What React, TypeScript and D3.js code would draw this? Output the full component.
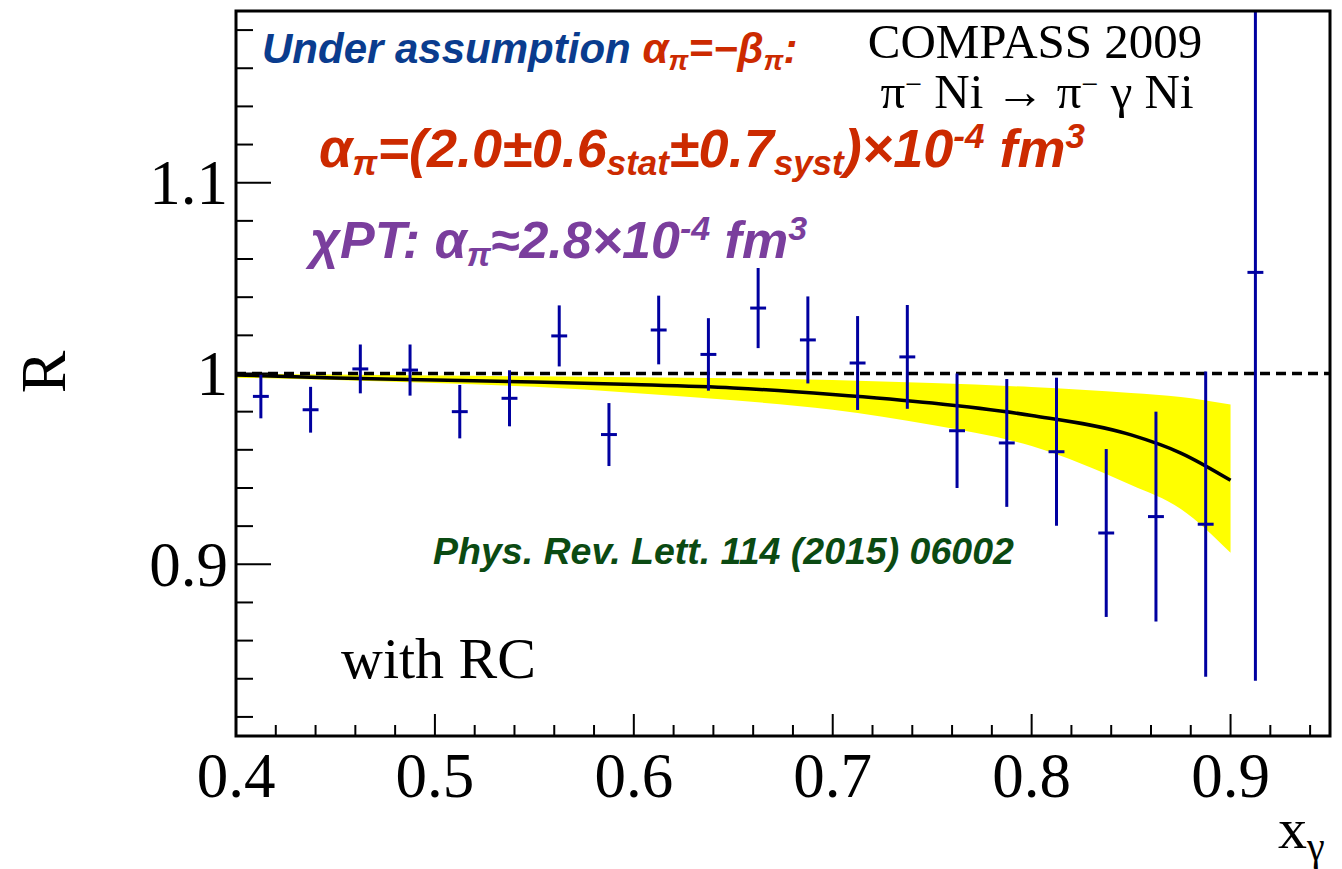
import React from "react";
import * as d3 from "d3";

// ---- data ----
const binCenters = [0.4125, 0.4375, 0.4625, 0.4875, 0.5125, 0.5375, 0.5625, 0.5875, 0.6125, 0.6375, 0.6625, 0.6875, 0.7125, 0.7375, 0.7625, 0.7875, 0.8125, 0.8375, 0.8625, 0.8875, 0.9125];
const ratioValues = [0.988, 0.981, 1.0024, 1.0018, 0.980, 0.987, 1.0197, 0.968, 1.0228, 1.010, 1.0343, 1.0176, 1.0055, 1.0087, 0.970, 0.9636, 0.959, 0.9164, 0.925, 0.921, 1.053];
const ratioErrors = [0.0115, 0.012, 0.0128, 0.0134, 0.014, 0.0147, 0.016, 0.0165, 0.018, 0.019, 0.021, 0.0228, 0.0246, 0.0272, 0.030, 0.0335, 0.0388, 0.044, 0.055, 0.080, 0.214];
const xHalfWidth = 0.004;

const theoryX = [0.40, 0.45, 0.50, 0.55, 0.60, 0.65, 0.70, 0.75, 0.80, 0.85, 0.875, 0.90];
const theoryR = [0.9992, 0.9977, 0.9966, 0.9955, 0.9942, 0.9924, 0.9890, 0.9845, 0.9780, 0.9678, 0.9583, 0.9440];
const bandUpper = [1.0, 0.9995, 0.9990, 0.9985, 0.9980, 0.9975, 0.9966, 0.9950, 0.9929, 0.9898, 0.9877, 0.9838];
const bandLower = [0.9978, 0.9966, 0.9950, 0.9930, 0.9898, 0.9860, 0.9810, 0.9730, 0.9620, 0.9415, 0.9290, 0.9060];

const xMajorTicks = [0.4, 0.5, 0.6, 0.7, 0.8, 0.9];
const xTickLabels = ["0.4", "0.5", "0.6", "0.7", "0.8", "0.9"];
const yMajorTicks = [0.9, 1.0, 1.1];
const yTickLabels = ["0.9", "1", "1.1"];

const W = 1342, H = 869;
const L = 236, R = 1330, T = 11, B = 736;

const SERIF = "'Liberation Serif', 'Times New Roman', serif";
const SANS = "'Liberation Sans', Arial, sans-serif";

export default function App() {
  const x = d3.scaleLinear().domain([0.4, 0.95]).range([L, R]);
  const y = d3.scaleLinear().domain([0.81, 1.19]).range([B, T]);

  const xMinor = d3.range(0.42, 0.9501, 0.02).filter(v => Math.abs(v * 10 - Math.round(v * 10)) > 1e-6);
  const yMinor = d3.range(0.82, 1.1901, 0.02).filter(v => Math.abs(v * 10 - Math.round(v * 10)) > 1e-6);

  const theory = theoryX.map((v, i) => ({ x: v, r: theoryR[i], lo: bandLower[i], hi: bandUpper[i] }));
  const line = d3.line<any>().x(d => x(d.x)).y(d => y(d.r)).curve(d3.curveMonotoneX);
  const area = d3.area<any>().x(d => x(d.x)).y0(d => y(d.lo)).y1(d => y(d.hi)).curve(d3.curveMonotoneX);

  const blue = "#0000a0";

  return (
    <svg width={W} height={H} style={{ position: "absolute", left: 0, top: 0, background: "#fff" }}>
      <defs>
        <clipPath id="frame"><rect x={L} y={T} width={R - L} height={B - T} /></clipPath>
      </defs>
      <g clipPath="url(#frame)">
        <path d={area(theory) || ""} fill="#ffff00" />
        <line x1={L} x2={R} y1={y(1)} y2={y(1)} stroke="#000" strokeWidth={3.5} strokeDasharray="10 6" />
        <path d={line(theory) || ""} fill="none" stroke="#000" strokeWidth={3.5} />
        {binCenters.map((c, i) => (
          <g key={i} stroke={blue} strokeWidth={3}>
            <line x1={x(c)} x2={x(c)} y1={y(ratioValues[i] - ratioErrors[i])} y2={y(ratioValues[i] + ratioErrors[i])} />
            <line x1={x(c - xHalfWidth)} x2={x(c + xHalfWidth)} y1={y(ratioValues[i])} y2={y(ratioValues[i])} />
          </g>
        ))}
      </g>
      {/* frame */}
      <rect x={L} y={T} width={R - L} height={B - T} fill="none" stroke="#000" strokeWidth={3} />
      {/* x ticks */}
      {xMajorTicks.map(v => <line key={"xM" + v} x1={x(v)} x2={x(v)} y1={B} y2={B - 22} stroke="#000" strokeWidth={2} />)}
      {xMinor.map(v => <line key={"xm" + v} x1={x(v)} x2={x(v)} y1={B} y2={B - 11} stroke="#000" strokeWidth={2} />)}
      {/* y ticks */}
      {yMajorTicks.map(v => <line key={"yM" + v} x1={L} x2={L + 35} y1={y(v)} y2={y(v)} stroke="#000" strokeWidth={2} />)}
      {yMinor.map(v => <line key={"ym" + v} x1={L} x2={L + 17} y1={y(v)} y2={y(v)} stroke="#000" strokeWidth={2} />)}
      {/* tick labels */}
      {xMajorTicks.map((v, i) => (
        <text key={"xl" + v} x={x(v)} y={797} textAnchor="middle" fontFamily={SERIF} fontSize={63} fill="#000">{xTickLabels[i]}</text>
      ))}
      {yMajorTicks.map((v, i) => (
        <text key={"yl" + v} x={228} y={y(v) + 21.5} textAnchor="end" fontFamily={SERIF} fontSize={63} fill="#000">{yTickLabels[i]}</text>
      ))}
      {/* axis titles */}
      <text transform="translate(65,372) rotate(-90)" textAnchor="middle" fontFamily={SERIF} fontSize={64} fill="#000">R</text>
      <text x={1278} y={848} fontFamily={SERIF} fontSize={58} fill="#000">x<tspan fontSize={40} dy={12}>γ</tspan></text>

      {/* annotations */}
      <text x={262} y={63} fontFamily={SANS} fontSize={42} fontWeight="bold" fontStyle="italic" fill="#0a3c8e">
        Under assumption{" "}
        <tspan fill="#cc2a00">α<tspan fontSize={28} dy={7}>π</tspan><tspan dy={-7}>=−β</tspan><tspan fontSize={28} dy={7}>π</tspan><tspan dy={-7}>:</tspan></tspan>
      </text>
      <text x={319} y={167} fontFamily={SANS} fontSize={54} fontWeight="bold" fontStyle="italic" fill="#cc2a00">
        α<tspan fontSize={35} dy={8}>π</tspan><tspan dy={-8}>=(2.0±0.6</tspan><tspan fontSize={35} dy={8}>stat</tspan><tspan dy={-8}>±0.7</tspan><tspan fontSize={35} dy={8}>syst</tspan><tspan dy={-8}>)×10</tspan><tspan fontSize={35} dy={-19}>-4</tspan><tspan dy={19}> fm</tspan><tspan fontSize={35} dy={-19}>3</tspan>
      </text>
      <text x={310} y={258} fontFamily={SANS} fontSize={52} fontWeight="bold" fontStyle="italic" fill="#7a3e9d">
        χPT: α<tspan fontSize={34} dy={8}>π</tspan><tspan dy={-8}>≈2.8×10</tspan><tspan fontSize={34} dy={-18}>-4</tspan><tspan dy={18}> fm</tspan><tspan fontSize={34} dy={-18}>3</tspan>
      </text>
      <text x={1035} y={58} textAnchor="middle" fontFamily={SERIF} fontSize={49} fill="#000">COMPASS 2009</text>
      <text x={1037} y={108} textAnchor="middle" fontFamily={SERIF} fontSize={49} fill="#000">
        π<tspan fontSize={30} dy={-14}>−</tspan><tspan dy={14}> Ni → π</tspan><tspan fontSize={30} dy={-14}>−</tspan><tspan dy={14}> γ Ni</tspan>
      </text>
      <text x={433} y={564} fontFamily={SANS} fontSize={37.5} fontWeight="bold" fontStyle="italic" fill="#0b4a12">Phys. Rev. Lett. 114 (2015) 06002</text>
      <text x={341} y={678} fontFamily={SERIF} fontSize={58} fill="#000">with RC</text>
    </svg>
  );
}
